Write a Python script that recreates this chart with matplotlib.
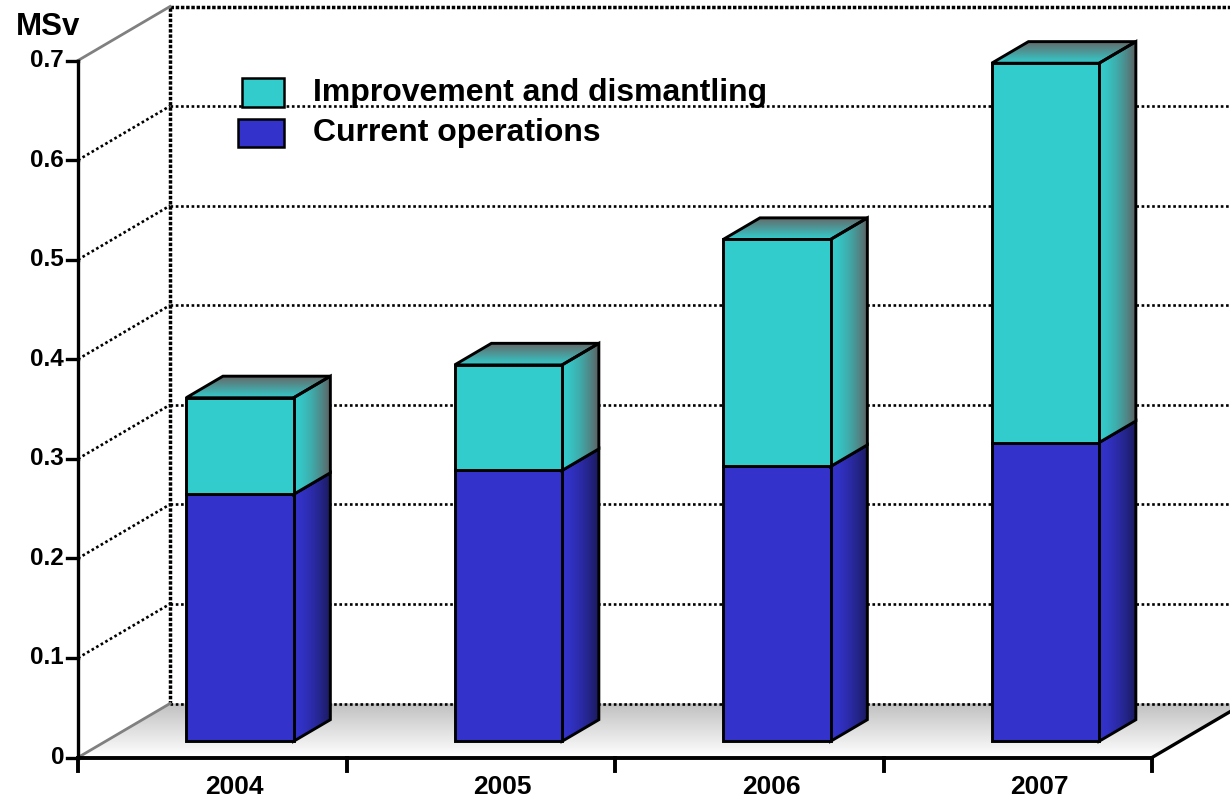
import numpy as np
import matplotlib.pyplot as plt
from matplotlib.patches import Polygon, Rectangle
from matplotlib.colors import to_rgb

plt.rcParams['font.family'] = ['Liberation Sans', 'DejaVu Sans']
plt.rcParams['font.weight'] = 'bold'

# data
years = ['2004', '2005', '2006', '2007']
current = [0.248, 0.272, 0.276, 0.300]
improvement = [0.097, 0.106, 0.228, 0.381]
y_ticks = [0, 0.1, 0.2, 0.3, 0.4, 0.5, 0.6, 0.7]
y_labels = ['0', '0.1', '0.2', '0.3', '0.4', '0.5', '0.6', '0.7']
series_names = ['Improvement and dismantling', 'Current operations']

C_IMP = '#33cccc'
C_CUR = '#3333cc'

# pseudo-3d geometry (category units / value units)
PX_U = 268.5    # pixels per category
PX_V = 995.7    # pixels per 1.0 MSv
DX = 92 / PX_U  # depth shift
DY = 54 / PX_V
D0, DW = 0.3, 0.4   # bar front depth and depth size
BW = 0.4            # bar width
EDGE = 2.1

fig = plt.figure(figsize=(12.3, 7.99), dpi=100)
ax = fig.add_axes([0, 0, 1, 1])
ax.axis('off')
XL = (-78 / PX_U, (1230 - 78) / PX_U)
YL = ((757.5 - 799) / PX_V, 757.5 / PX_V)


def grad_fill(verts, c0, c1, direction, z, gamma=1.0, edge=True):
    poly = Polygon(verts, closed=True, facecolor='none', edgecolor='none')
    ax.add_patch(poly)
    xs = [p[0] for p in verts]
    ys = [p[1] for p in verts]
    t = np.linspace(0, 1, 256) ** gamma
    a, b = np.array(to_rgb(c0)), np.array(to_rgb(c1))
    cols = a + (b - a) * t[:, None]
    img = cols[None, :, :] if direction == 'x' else cols[:, None, :]
    im = ax.imshow(img, extent=(min(xs), max(xs), min(ys), max(ys)), origin='lower',
                   aspect='auto', interpolation='bilinear', zorder=z)
    im.set_clip_path(poly)
    if edge:
        ax.add_patch(Polygon(verts, closed=True, facecolor='none', edgecolor='black',
                             lw=EDGE, zorder=z + 0.1))


n = len(years)

# floor
floor = [(0, 0), (n, 0), (n + DX, DY), (DX, DY)]
grad_fill(floor, '#ffffff', '#c0c0c0', 'y', 1, edge=False)
ax.plot([n, n + DX], [0, DY], color='black', lw=2.4, zorder=1.5)

# back wall grid
dots = (0, (1, 1))
for v in y_ticks[:-1]:
    ax.plot([DX, n + DX], [v + DY, v + DY], color='black', lw=1.9, linestyle=dots, zorder=2)
ax.plot([DX, n + DX], [y_ticks[-1] + DY] * 2, color='black', lw=2.5, linestyle=(0, (1, 0.5)), zorder=2)
ax.plot([DX, DX], [DY, y_ticks[-1] + DY], color='black', lw=2.5, linestyle=(0, (1, 0.5)), zorder=2)

# side wall lines
for v in y_ticks:
    if v in (y_ticks[0], y_ticks[-1]):
        ax.plot([0, DX], [v, v + DY], color='#808080', lw=2.0, zorder=2)
    else:
        ax.plot([0, DX], [v, v + DY], color='black', lw=1.9, linestyle=dots, zorder=2)

# axes lines and ticks
ax.plot([0, 0], [0, y_ticks[-1]], color='black', lw=2.4, zorder=3)
ax.plot([0, n], [0, 0], color='black', lw=2.8, zorder=3)
for v, lab in zip(y_ticks, y_labels):
    ax.plot([-11 / PX_U, 0], [v, v], color='black', lw=2.4, zorder=3)
    ax.text(-14 / PX_U, v, lab, ha='right', va='center', fontsize=17.5, fontweight='bold')
for i in range(n + 1):
    ax.plot([i, i], [0, -13 / PX_V], color='black', lw=2.8, zorder=3)
for i, yr in enumerate(years):
    ax.text(i + 0.5 + 22 / PX_U, -30 / PX_V, yr, ha='center', va='center',
            fontsize=19, fontweight='bold')
ax.text(-30 / PX_U, (757.5 - 27) / PX_V, 'MSv', ha='center', va='center',
        fontsize=22.5, fontweight='bold')

# bars
for i in range(n):
    x0 = i + 0.5 - BW / 2 + D0 * DX
    x1 = x0 + BW
    segs = [(0, current[i], C_CUR, '#1a1a5c'),
            (current[i], current[i] + improvement[i], C_IMP, '#5f5f5f')]
    for k, (b, t, c, dark) in enumerate(segs):
        y0 = b + D0 * DY
        y1 = t + D0 * DY
        z = 5 + i + k * 0.3
        side = [(x1, y0), (x1 + DW * DX, y0 + DW * DY), (x1 + DW * DX, y1 + DW * DY), (x1, y1)]
        grad_fill(side, c, dark, 'x', z, gamma=1.6)
        ax.add_patch(Rectangle((x0, y0), BW, t - b, facecolor=c, edgecolor='black',
                               lw=EDGE, zorder=z + 0.2))
        if k == len(segs) - 1:
            top = [(x0, y1), (x1, y1), (x1 + DW * DX, y1 + DW * DY), (x0 + DW * DX, y1 + DW * DY)]
            grad_fill(top, c, '#666666', 'y', z)

# legend
ax.add_patch(Rectangle((241.7 / 1230, 1 - 107 / 799), 42.3 / 1230, 29 / 799,
                       transform=ax.transAxes, facecolor=C_IMP, edgecolor='black', lw=1.8, zorder=10))
ax.add_patch(Rectangle((238 / 1230, 1 - 147 / 799), 46 / 1230, 28 / 799,
                       transform=ax.transAxes, facecolor=C_CUR, edgecolor='black', lw=1.8, zorder=10))
ax.text(313 / 1230, 1 - 93 / 799, series_names[0], transform=ax.transAxes,
        ha='left', va='center', fontsize=23, fontweight='bold', zorder=10)
ax.text(313 / 1230, 1 - 133 / 799, series_names[1], transform=ax.transAxes,
        ha='left', va='center', fontsize=23, fontweight='bold', zorder=10)

ax.set_xlim(*XL)
ax.set_ylim(*YL)
fig.savefig('out.png', dpi=100)
